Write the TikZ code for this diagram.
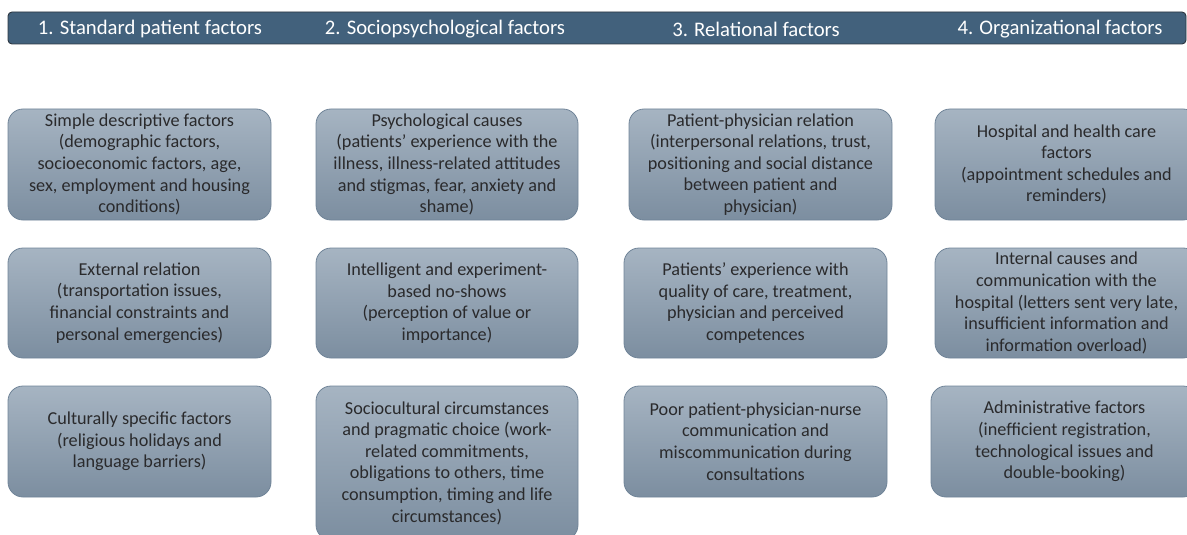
\documentclass[tikz,border=0pt]{standalone}
\usepackage{fontspec}
\setmainfont{Carlito}
\definecolor{barfill}{RGB}{66,97,124}
\definecolor{barline}{RGB}{45,55,65}
\definecolor{boxtop}{RGB}{166,180,194}
\definecolor{boxbot}{RGB}{124,142,160}
\definecolor{boxline}{RGB}{112,132,152}
\definecolor{boxtext}{RGB}{42,42,44}
\tikzset{
  factor/.style={rectangle, rounded corners=15pt, draw=boxline, line width=0.8pt,
    top color=boxtop, bottom color=boxbot, inner sep=0pt,
    align=center, text=boxtext,
    font=\fontsize{18.2}{21.6}\selectfont},
  header/.style={text=white, font=\fontsize{20.7}{24}\selectfont, anchor=center}
}
\begin{document}
\begin{tikzpicture}[x=1pt,y=-1pt]
\useasboundingbox (0,0) rectangle (1187,535);
\clip (0,0) rectangle (1187,535);

% title bar
\draw[barline, line width=0.9pt, fill=barfill, rounded corners=4pt] (8,12) rectangle (1186,44);
\node[header] (h1) at (150,29) {1. Standard patient factors};
\node[header] (h2) at (445,29) {2. Sociopsychological factors};
\node[header] (h3) at (756,29) {3. Relational factors};
\node[header] (h4) at (1060,29) {4. Organizational factors};

% column 1
\node[factor, minimum width=263pt, minimum height=111pt] (a1) at (139.5,164.5)
  {Simple descriptive factors\\(demographic factors,\\socioeconomic factors, age,\\sex, employment and housing\\conditions)};
\node[factor, minimum width=263pt, minimum height=110pt] (a2) at (139.5,303)
  {External relation\\(transportation issues,\\financial constraints and\\personal emergencies)};
\node[factor, minimum width=263pt, minimum height=111pt] (a3) at (139.5,441.5)
  {Culturally specific factors\\(religious holidays and\\language barriers)};

% column 2
\node[factor, minimum width=262pt, minimum height=111pt] (b1) at (447,164.5)
  {Psychological causes\\(patients’ experience with the\\illness, illness-related attitudes\\and stigmas, fear, anxiety and\\shame)};
\node[factor, minimum width=262pt, minimum height=110pt] (b2) at (447,303)
  {Intelligent and experiment-\\based no-shows\\(perception of value or\\importance)};
\node[factor, minimum width=262pt, minimum height=154pt] (b3) at (447,463)
  {Sociocultural circumstances\\and pragmatic choice (work-\\related commitments,\\obligations to others, time\\consumption, timing and life\\circumstances)};

% column 3
\node[factor, minimum width=263pt, minimum height=111pt] (c1) at (760.5,164.5)
  {Patient-physician relation\\(interpersonal relations, trust,\\positioning and social distance\\between patient and\\physician)};
\node[factor, minimum width=263pt, minimum height=110pt] (c2) at (755.5,303)
  {Patients’ experience with\\quality of care, treatment,\\physician and perceived\\competences};
\node[factor, minimum width=263pt, minimum height=111pt] (c3) at (755.5,441.5)
  {Poor patient-physician-nurse\\communication and\\miscommunication during\\consultations};

% column 4
\node[factor, minimum width=263pt, minimum height=111pt] (d1) at (1066.5,164.5)
  {Hospital and health care\\factors\\(appointment schedules and\\reminders)};
\node[factor, minimum width=263pt, minimum height=110pt] (d2) at (1066.5,303)
  {Internal causes and\\communication with the\\hospital (letters sent very late,\\insufficient information and\\information overload)};
\node[factor, minimum width=267pt, minimum height=111pt] (d3) at (1064.5,441.5)
  {Administrative factors\\(inefficient registration,\\technological issues and\\double-booking)};
\end{tikzpicture}
\end{document}
